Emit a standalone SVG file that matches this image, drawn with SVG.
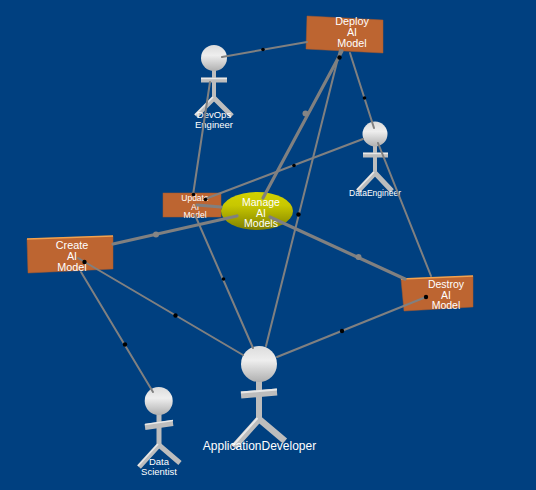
<svg xmlns="http://www.w3.org/2000/svg" width="536" height="490" viewBox="0 0 536 490">
<style>
text{font-family:"Liberation Sans",Arial,sans-serif;fill:#fff;text-anchor:middle}
.f85{font-size:8.500px}.f95{font-size:9.500px}.f10{font-size:10px}.f105{font-size:10.500px}.f11{font-size:10.800px}.f12{font-size:12px}
.box{fill:#bd6531;stroke:#a9582a;stroke-width:.5}
.top{fill:none;stroke:#f2a24e;stroke-width:1.4}
.limb{fill:none;stroke:#bdbdbd;stroke-linecap:butt}
.hi{fill:none;stroke:#e8e8e8;stroke-linecap:butt}
.head{fill:url(#hg)}
.c{stroke:#808080;fill:none;stroke-width:2;stroke-linecap:round}
.t{stroke:#808080;fill:none;stroke-width:3.200;stroke-linecap:round}
.d{fill:#000}
.g{fill:#858585}
</style>
<defs>
<linearGradient id="hg" x1="0" y1="0" x2="0" y2="1"><stop offset="0" stop-color="#dcdcdc"/><stop offset=".4" stop-color="#eeeeee"/><stop offset="1" stop-color="#b0b0b0"/></linearGradient>
<linearGradient id="eg" x1="0" y1="0" x2="0" y2="1"><stop offset="0" stop-color="#d2d200"/><stop offset=".35" stop-color="#c8c800"/><stop offset="1" stop-color="#7f7f00"/></linearGradient>
</defs>
<rect width="536" height="490" fill="#004080"/>

<g id="deploy"><polygon class="box" points="307,16 383,20 383,53 306,49"/><text class="f11"><tspan x="352" y="25">Deploy</tspan><tspan x="352" y="36">AI</tspan><tspan x="352" y="47">Model</tspan></text></g>
<g id="update"><rect class="box" x="163" y="193" width="58" height="24"/><text class="f85"><tspan x="195" y="201">Update</tspan><tspan x="195" y="209.500">AI</tspan><tspan x="195" y="218">Model</tspan></text></g>
<g id="create"><polygon class="box" points="27,239 113,236 113,269 28,273"/><path class="top" d="M27,239 L113,236"/><text class="f11"><tspan x="72" y="249">Create</tspan><tspan x="72" y="260">AI</tspan><tspan x="72" y="271">Model</tspan></text></g>
<g id="destroy"><polygon class="box" points="401,279 473,276 473,307 404,311"/><path class="top" d="M401,279 L473,276"/><text class="f105"><tspan x="446" y="288">Destroy</tspan><tspan x="446" y="298.500">AI</tspan><tspan x="446" y="309">Model</tspan></text></g>
<g id="manage"><ellipse cx="257" cy="211" rx="36" ry="19" fill="url(#eg)"/><text class="f105"><tspan x="261" y="206">Manage</tspan><tspan x="261" y="216.500">AI</tspan><tspan x="261" y="227">Models</tspan></text></g>

<g id="devops">
<path class="limb" stroke-width="4" d="M214,70V98"/>
<path class="limb" stroke-width="5" d="M196,116L214,98L232,116"/>
<path class="limb" stroke-width="5" d="M201,80H227"/>
<path class="hi" stroke-width="1.500" d="M201,78.500H227M195,115L213,97"/>
<circle class="head" cx="214" cy="58" r="13"/>
<text class="f95"><tspan x="214" y="118">DevOps</tspan><tspan x="214" y="127.500">Engineer</tspan></text>
</g>
<g id="dataengineer">
<path class="limb" stroke-width="4" d="M375,146V173"/>
<path class="limb" stroke-width="5" d="M358,191L375,173L392,191"/>
<path class="limb" stroke-width="5" d="M363,155H388"/>
<path class="hi" stroke-width="1.500" d="M363,153.500H388M357,190L374,172"/>
<circle class="head" cx="375" cy="134" r="12.500"/>
<text class="f85" x="375" y="196">DataEngineer</text>
</g>
<g id="appdev">
<path class="limb" stroke-width="6" d="M259,380V419"/>
<path class="limb" stroke-width="6.500" d="M234,447L259,419L285,441"/>
<path class="limb" stroke-width="7" d="M241,395L277,392"/>
<path class="hi" stroke-width="2" d="M241,392.500L277,389.500M232.500,446L257.500,418"/>
<circle class="head" cx="259" cy="364" r="18"/>
<text class="f12" x="259.500" y="450">ApplicationDeveloper</text>
</g>
<g id="datascientist">
<path class="limb" stroke-width="5" d="M159,413V445"/>
<path class="limb" stroke-width="5" d="M139,467L159,445L180,463"/>
<path class="limb" stroke-width="6" d="M145,427L173,423"/>
<path class="hi" stroke-width="1.500" d="M145,424.500L173,420.500M138,466L158,444"/>
<circle class="head" cx="158.700" cy="401" r="14"/>
<text class="f95"><tspan x="159" y="465">Data</tspan><tspan x="159" y="474.500">Scientist</tspan></text>
</g>

<g id="connectors">
<path class="c" d="M222,57L307,42"/><circle class="d" cx="263" cy="49.500" r="1.800"/>
<path class="t" d="M342,51L263,198"/><circle class="g" cx="305.500" cy="113.500" r="3"/>
<path class="c" d="M340,50L266,346"/><circle class="d" cx="339.500" cy="57.500" r="2.200"/><circle class="d" cx="298.500" cy="214.500" r="2.200"/>
<path class="c" d="M350,53L374,128"/><circle class="d" cx="364.500" cy="98" r="1.800"/>
<path class="c" d="M363,139L205,199"/><circle class="d" cx="294" cy="165.500" r="1.800"/><circle class="d" cx="205.500" cy="199.500" r="1.800"/>
<path class="c" d="M210,82L193,195"/><circle class="d" cx="193.500" cy="194.500" r="1.800"/>
<path class="c" d="M195,215L253,348"/><circle class="d" cx="223.500" cy="279" r="1.800"/>
<path class="c" d="M378,143L431,276"/>
<path class="t" d="M197,205L221,207"/>
<path class="t" d="M113,244L237,216"/><circle class="g" cx="156" cy="234.500" r="3"/>
<path class="t" d="M270,217L405,279"/><circle class="g" cx="358.500" cy="257" r="3"/>
<path class="c" d="M78,258L243,355"/><circle class="d" cx="84.500" cy="262" r="2.200"/><circle class="d" cx="175.500" cy="315.500" r="2.200"/>
<path class="c" d="M81,272L153,392"/><circle class="d" cx="125" cy="344.500" r="2.200"/>
<path class="c" d="M277,357L426,297"/><circle class="d" cx="342" cy="331" r="2.200"/><circle class="d" cx="426" cy="297" r="2.200"/>
</g>
</svg>
